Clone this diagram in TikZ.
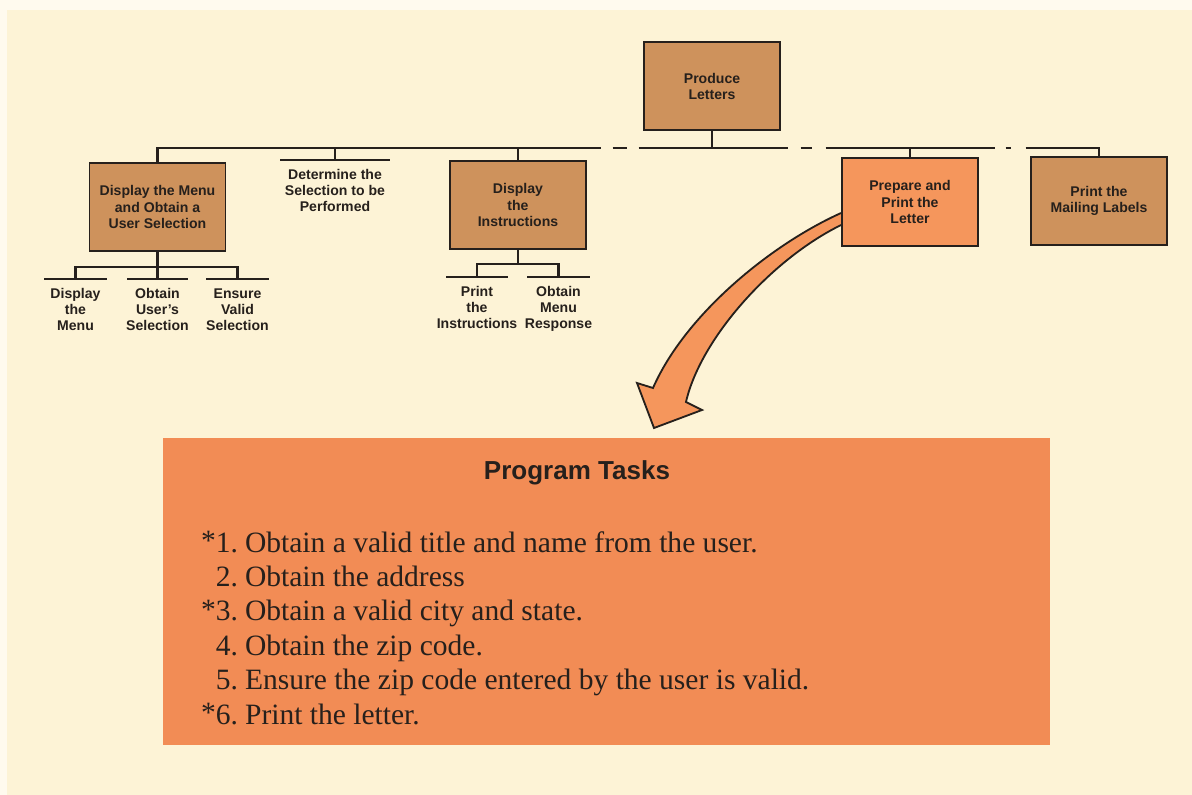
\documentclass[tikz,border=0pt]{standalone}
\usepackage{fontspec}
\setmainfont{Liberation Serif}
\setsansfont{Liberation Sans}
\usepackage{xcolor}
\usetikzlibrary{calc, positioning, backgrounds}

\definecolor{paper}{RGB}{253,243,214}
\definecolor{paperEdge}{RGB}{255,250,238}
\definecolor{moduleTan}{RGB}{206,146,92}
\definecolor{hilite}{RGB}{245,150,92}
\definecolor{taskFill}{RGB}{242,140,85}
\definecolor{ink}{RGB}{38,32,28}

\newcommand{\taskmark}{\raisebox{0.06em}{*}}

\tikzset{
    module/.style={rectangle, draw=ink, line width=1.3pt, fill=moduleTan, minimum width=3.4cm, minimum height=2.2cm, align=center, text=ink, inner sep=2pt, font=\sffamily\bfseries\fontsize{10}{11.4}\selectfont},
    leaf/.style={rectangle, anchor=north, inner xsep=0pt, inner ysep=6.5pt, align=center, text=ink, font=\sffamily\bfseries\fontsize{10}{11.4}\selectfont},
    tie/.style={draw=ink, line width=1.7pt},
    task/.style={anchor=base west, inner sep=0pt, text=ink, font=\fontsize{21}{24}\selectfont}
}

\begin{document}
\begin{tikzpicture}[
        x=0.025cm, y=-0.025cm,
        % main bus with its broken stretches
        bus/.style={
            tie,
            dash pattern=on 315.1pt off 8.54pt on 9.96pt off 8.54pt on 106pt off 9.25pt on 7.82pt off 9.96pt on 120.2pt off 7.82pt on 3.56pt off 10.67pt on 53.35pt
        },
        bigArrow/.style={
            fill=hilite,
            draw=ink,
            line width=1.3pt,
            line join=miter
        },
        heading/.style={
            anchor=base,
            text=ink,
            font=\sffamily\bfseries\fontsize{18.5}{22}\selectfont
        }
    ]

    \useasboundingbox (0,0) rectangle (1192,795);

    % --- TOP LEVEL ---
    \node[module] (prod) at (712,86) {Produce\\Letters};
    \coordinate (bus) at (0,148);

    % --- SECOND LEVEL ---
    \node[module] (menu) at (157.5,207) {Display the Menu\\and Obtain a\\User Selection};
    \node[leaf] (det) at (335,160) {Determine the\\Selection to be\\Performed};
    \node[module] (instr) at (518,205) {Display\\the\\Instructions};
    \node[module, fill=hilite] (letter) at (910,202) {Prepare and\\Print the\\Letter};
    \node[module] (labels) at (1099,201) {Print the\\Mailing Labels};

    % --- THIRD LEVEL ---
    \node[leaf] (dMenu) at (75.5,279) {Display\\the\\Menu};
    \node[leaf] (oSel) at (157.5,279) {Obtain\\User's\\Selection};
    \node[leaf] (eSel) at (237.5,279) {Ensure\\Valid\\Selection};
    \node[leaf] (pInstr) at (477,277) {Print\\the\\Instructions};
    \node[leaf] (oResp) at (558.5,277) {Obtain\\Menu\\Response};

    % Bars over the leaf labels
    \foreach \n/\w in {det/110, dMenu/63, oSel/61, eSel/63, pInstr/62, oResp/63}
        \draw[tie] ($(\n.north)+(-\w/2,0)$) -- ($(\n.north)+(\w/2,0)$);

    % Connections to the bus
    \draw[bus] (menu.north |- bus) -- (labels.north |- bus);
    \draw[tie, line cap=rect] (prod.south) -- (prod.south |- bus);
    \draw[tie, line cap=rect] (menu.north) -- (menu.north |- bus);
    \draw[tie] (det.north) -- (det.north |- bus);
    \draw[tie] (instr.north) -- (instr.north |- bus);
    \draw[tie] (letter.north) -- (letter.north |- bus);
    \draw[tie, line cap=rect] (labels.north) -- (labels.north |- bus);

    % Menu subtree
    \draw[tie] (menu.south) -- (oSel.north);
    \draw[tie] (dMenu.north) -- ++(0,-12) -| (eSel.north);

    % Instructions subtree
    \draw[tie] (pInstr.north) -- ++(0,-13) coordinate (instrFork) -| (oResp.north);
    \draw[tie] (instr.south) -- (instr.south |- instrFork);

    % --- PROGRAM TASKS ---
    \node[rectangle, fill=taskFill, minimum width=22.175cm, minimum height=7.675cm] (tasks) at (606.5,591.5) {};
    \node[heading] (tasksTitle) at (577,479) {Program Tasks};

    \foreach \mk/\txt [count=\i] in {
        {\taskmark1.}/{Obtain a valid title and name from the user.},
        {2.}/{Obtain the address},
        {\taskmark3.}/{Obtain a valid city and state.},
        {4.}/{Obtain the zip code.},
        {5.}/{Ensure the zip code entered by the user is valid.},
        {\taskmark6.}/{Print the letter.}}
        \node[task] (task\i) at (197,552+34.4*\i-34.4) {\makebox[29pt][r]{\mk}\hspace{5pt}\txt};

    % Paper and the big arrow go underneath
    \begin{pgfonlayer}{background}
        \fill[paperEdge] (0,0) rectangle (1192,795);
        \fill[paper] (7,10) rectangle (1192,795);
        \path[bigArrow] ($(letter.west)+(0,11)$)
            .. controls (770,245) and (685,315) .. (653,388)
            -- (637,383) -- (654,428) -- (702,410) -- (686,402)
            .. controls (700,340) and (770,260) .. ($(letter.west)+(0,23)$);
    \end{pgfonlayer}

\end{tikzpicture}
\end{document}
